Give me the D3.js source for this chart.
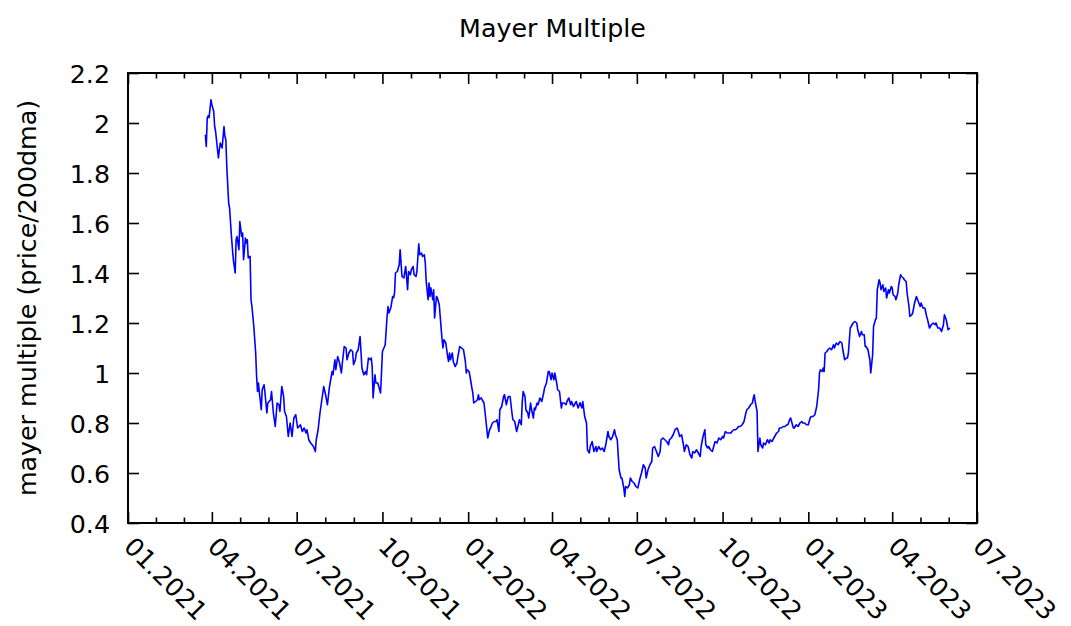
<!DOCTYPE html>
<html>
<head>
<meta charset="utf-8">
<script src="https://cdn.jsdelivr.net/npm/d3@7"></script>
<style>
  html, body { margin: 0; padding: 0; background: #fff; }
  svg { display: block; }
  text { font-family: "DejaVu Sans", sans-serif; fill: #000; }
</style>
</head>
<body>
<svg id="chart" width="1071" height="626"></svg>
<script>
const title = "Mayer Multiple";
const yLabel = "mayer multiple (price/200dma)";
const xDomain = ["2021-01-01", "2023-07-01"];
const yDomain = [0.4, 2.2];
const yTicks = [0.4, 0.6, 0.8, 1.0, 1.2, 1.4, 1.6, 1.8, 2.0, 2.2];
const xTickDates = ["2021-01-01","2021-04-01","2021-07-01","2021-10-01","2022-01-01","2022-04-01","2022-07-01","2022-10-01","2023-01-01","2023-04-01","2023-07-01"];

const dates = [
"2021-03-25","2021-03-26","2021-03-27","2021-03-28","2021-03-29","2021-03-31","2021-04-01","2021-04-03","2021-04-04","2021-04-05",
"2021-04-08","2021-04-09","2021-04-10","2021-04-12","2021-04-14","2021-04-15","2021-04-16","2021-04-17","2021-04-19","2021-04-20",
"2021-04-22","2021-04-24","2021-04-26","2021-04-27","2021-04-28","2021-04-30","2021-05-01","2021-05-03","2021-05-04","2021-05-05",
"2021-05-07","2021-05-08","2021-05-09","2021-05-10","2021-05-12","2021-05-13","2021-05-14","2021-05-16","2021-05-18","2021-05-19",
"2021-05-20","2021-05-21","2021-05-22","2021-05-24","2021-05-25","2021-05-27","2021-05-28","2021-05-30","2021-05-31","2021-06-03",
"2021-06-04","2021-06-06","2021-06-08","2021-06-10","2021-06-12","2021-06-13","2021-06-15","2021-06-17","2021-06-18","2021-06-20",
"2021-06-22","2021-06-24","2021-06-26","2021-06-28","2021-06-30","2021-07-02","2021-07-05","2021-07-07","2021-07-09","2021-07-11",
"2021-07-12","2021-07-14","2021-07-16","2021-07-19","2021-07-21","2021-07-22","2021-07-24","2021-07-26","2021-07-28","2021-07-30",
"2021-08-01","2021-08-03","2021-08-05","2021-08-08","2021-08-09","2021-08-11","2021-08-12","2021-08-14","2021-08-16","2021-08-18",
"2021-08-19","2021-08-21","2021-08-23","2021-08-24","2021-08-26","2021-08-28","2021-08-30","2021-08-31","2021-09-02","2021-09-03",
"2021-09-05","2021-09-07","2021-09-08","2021-09-09","2021-09-11","2021-09-13","2021-09-14","2021-09-16","2021-09-18","2021-09-19",
"2021-09-20","2021-09-21","2021-09-23","2021-09-24","2021-09-26","2021-09-29","2021-09-30","2021-10-01","2021-10-04","2021-10-06",
"2021-10-07","2021-10-08","2021-10-10","2021-10-12","2021-10-13","2021-10-14","2021-10-15","2021-10-17","2021-10-19","2021-10-20",
"2021-10-21","2021-10-22","2021-10-24","2021-10-26","2021-10-28","2021-10-29","2021-10-31","2021-11-01","2021-11-03","2021-11-04",
"2021-11-06","2021-11-07","2021-11-09","2021-11-10","2021-11-12","2021-11-13","2021-11-15","2021-11-16","2021-11-17","2021-11-19",
"2021-11-20","2021-11-21","2021-11-22","2021-11-24","2021-11-25","2021-11-26","2021-11-28","2021-11-29","2021-12-01","2021-12-02",
"2021-12-04","2021-12-05","2021-12-06","2021-12-08","2021-12-10","2021-12-11","2021-12-12","2021-12-13","2021-12-15","2021-12-16",
"2021-12-18","2021-12-20","2021-12-21","2021-12-23","2021-12-25","2021-12-27","2021-12-29","2021-12-30","2021-12-31","2022-01-02",
"2022-01-03","2022-01-05","2022-01-06","2022-01-07","2022-01-09","2022-01-11","2022-01-12","2022-01-13","2022-01-15","2022-01-16",
"2022-01-18","2022-01-20","2022-01-22","2022-01-24","2022-01-25","2022-01-27","2022-01-29","2022-01-31","2022-02-01","2022-02-03",
"2022-02-04","2022-02-06","2022-02-08","2022-02-09","2022-02-11","2022-02-13","2022-02-15","2022-02-17","2022-02-18","2022-02-20",
"2022-02-22","2022-02-23","2022-02-25","2022-02-27","2022-02-28","2022-03-01","2022-03-03","2022-03-04","2022-03-06","2022-03-07",
"2022-03-09","2022-03-10","2022-03-12","2022-03-13","2022-03-14","2022-03-16","2022-03-17","2022-03-19","2022-03-21","2022-03-23",
"2022-03-24","2022-03-26","2022-03-28","2022-03-29","2022-03-31","2022-04-01","2022-04-03","2022-04-04","2022-04-06","2022-04-07",
"2022-04-09","2022-04-11","2022-04-12","2022-04-14","2022-04-16","2022-04-17","2022-04-19","2022-04-21","2022-04-22","2022-04-24",
"2022-04-26","2022-04-27","2022-04-29","2022-05-01","2022-05-03","2022-05-04","2022-05-06","2022-05-08","2022-05-09","2022-05-11",
"2022-05-12","2022-05-14","2022-05-16","2022-05-18","2022-05-19","2022-05-21","2022-05-23","2022-05-25","2022-05-27","2022-05-29",
"2022-05-31","2022-06-01","2022-06-03","2022-06-05","2022-06-07","2022-06-08","2022-06-10","2022-06-12","2022-06-14","2022-06-15",
"2022-06-17","2022-06-18","2022-06-19","2022-06-21","2022-06-23","2022-06-24","2022-06-26","2022-06-28","2022-06-30","2022-07-02",
"2022-07-04","2022-07-06","2022-07-08","2022-07-10","2022-07-11","2022-07-13","2022-07-15","2022-07-17","2022-07-18","2022-07-20",
"2022-07-22","2022-07-24","2022-07-26","2022-07-27","2022-07-29","2022-07-31","2022-08-02","2022-08-04","2022-08-05","2022-08-07",
"2022-08-09","2022-08-11","2022-08-13","2022-08-14","2022-08-16","2022-08-18","2022-08-20","2022-08-21","2022-08-23","2022-08-25",
"2022-08-27","2022-08-29","2022-08-30","2022-09-01","2022-09-03","2022-09-05","2022-09-07","2022-09-08","2022-09-10","2022-09-12",
"2022-09-13","2022-09-15","2022-09-16","2022-09-18","2022-09-20","2022-09-22","2022-09-23","2022-09-25","2022-09-27","2022-09-29",
"2022-10-01","2022-10-02","2022-10-04","2022-10-06","2022-10-08","2022-10-10","2022-10-11","2022-10-13","2022-10-15","2022-10-17",
"2022-10-18","2022-10-20","2022-10-22","2022-10-24","2022-10-26","2022-10-27","2022-10-29","2022-10-31","2022-11-02","2022-11-03",
"2022-11-04","2022-11-05","2022-11-07","2022-11-08","2022-11-10","2022-11-11","2022-11-13","2022-11-14","2022-11-16","2022-11-18",
"2022-11-20","2022-11-21","2022-11-23","2022-11-25","2022-11-28","2022-11-30","2022-12-01","2022-12-03","2022-12-05","2022-12-07",
"2022-12-09","2022-12-10","2022-12-12","2022-12-13","2022-12-15","2022-12-16","2022-12-17","2022-12-19","2022-12-21","2022-12-23",
"2022-12-25","2022-12-26","2022-12-28","2022-12-30","2023-01-01","2023-01-03","2023-01-04","2023-01-06","2023-01-08","2023-01-10",
"2023-01-12","2023-01-13","2023-01-14","2023-01-16","2023-01-17","2023-01-18","2023-01-19","2023-01-21","2023-01-22","2023-01-24",
"2023-01-26","2023-01-28","2023-01-29","2023-01-31","2023-02-02","2023-02-04","2023-02-06","2023-02-07","2023-02-09","2023-02-11",
"2023-02-12","2023-02-13","2023-02-15","2023-02-16","2023-02-18","2023-02-20","2023-02-22","2023-02-23","2023-02-25","2023-02-27",
"2023-02-28","2023-03-02","2023-03-03","2023-03-04","2023-03-06","2023-03-08","2023-03-09","2023-03-11","2023-03-12","2023-03-14",
"2023-03-15","2023-03-16","2023-03-18","2023-03-19","2023-03-20","2023-03-22","2023-03-23","2023-03-25","2023-03-26","2023-03-28",
"2023-03-29","2023-03-31","2023-04-01","2023-04-02","2023-04-04","2023-04-05","2023-04-07","2023-04-08","2023-04-10","2023-04-11",
"2023-04-13","2023-04-14","2023-04-16","2023-04-17","2023-04-19","2023-04-20","2023-04-22","2023-04-23","2023-04-25","2023-04-27",
"2023-04-29","2023-05-01","2023-05-02","2023-05-04","2023-05-06","2023-05-08","2023-05-09","2023-05-11","2023-05-13","2023-05-15",
"2023-05-17","2023-05-18","2023-05-20","2023-05-22","2023-05-24","2023-05-26","2023-05-27","2023-05-29","2023-05-31","2023-06-02"
];

const mayer = [
1.953,1.906,2.020,2.029,2.021,2.093,2.073,2.046,1.986,1.966,
1.860,1.893,1.920,1.900,1.986,1.946,1.933,1.826,1.680,1.660,
1.546,1.453,1.400,1.533,1.546,1.493,1.606,1.546,1.560,1.453,
1.540,1.520,1.533,1.460,1.467,1.293,1.266,1.186,1.080,0.986,
0.926,0.960,0.920,0.853,0.933,0.953,0.920,0.840,0.880,0.893,
0.926,0.840,0.786,0.880,0.873,0.846,0.946,0.906,0.846,0.826,
0.746,0.800,0.746,0.820,0.833,0.780,0.793,0.766,0.780,0.760,
0.773,0.733,0.720,0.706,0.686,0.733,0.773,0.840,0.893,0.946,
0.913,0.873,0.940,1.006,0.993,1.053,1.013,1.066,1.040,1.000,
1.040,1.106,1.100,1.053,1.080,1.093,1.086,1.033,1.053,1.080,
1.093,1.146,1.086,1.020,0.993,1.006,0.993,1.060,1.053,1.060,
1.026,0.900,0.993,0.960,0.960,0.920,1.000,1.086,1.113,1.226,
1.266,1.240,1.261,1.306,1.301,1.320,1.400,1.406,1.433,1.493,
1.440,1.386,1.380,1.426,1.333,1.406,1.393,1.413,1.426,1.393,
1.386,1.406,1.517,1.473,1.480,1.466,1.473,1.440,1.366,1.293,
1.360,1.306,1.341,1.293,1.333,1.220,1.306,1.300,1.273,1.226,
1.133,1.100,1.133,1.120,1.066,1.046,1.080,1.053,1.080,1.046,
1.026,1.040,1.066,1.106,1.100,1.093,1.046,1.000,1.013,1.006,
0.986,0.940,0.920,0.880,0.886,0.893,0.913,0.893,0.901,0.893,
0.880,0.813,0.740,0.773,0.780,0.800,0.806,0.806,0.813,0.766,
0.853,0.866,0.906,0.913,0.873,0.906,0.906,0.840,0.813,0.806,
0.766,0.780,0.813,0.793,0.880,0.926,0.906,0.853,0.840,0.820,
0.880,0.853,0.820,0.860,0.853,0.880,0.873,0.900,0.886,0.920,
0.940,0.960,1.006,1.006,0.973,1.000,0.973,1.000,0.960,0.933,
0.926,0.860,0.880,0.880,0.873,0.886,0.900,0.873,0.886,0.866,
0.880,0.886,0.860,0.881,0.860,0.886,0.826,0.800,0.693,0.680,
0.706,0.726,0.686,0.706,0.686,0.706,0.693,0.700,0.686,0.720,
0.766,0.746,0.733,0.746,0.773,0.753,0.733,0.613,0.580,0.580,
0.540,0.506,0.546,0.540,0.553,0.580,0.566,0.560,0.546,0.540,
0.573,0.600,0.633,0.620,0.580,0.613,0.633,0.646,0.700,0.706,
0.686,0.666,0.686,0.733,0.740,0.733,0.726,0.713,0.733,0.740,
0.753,0.773,0.780,0.773,0.746,0.753,0.713,0.686,0.713,0.706,
0.673,0.660,0.686,0.680,0.693,0.680,0.666,0.706,0.746,0.773,
0.713,0.700,0.706,0.693,0.686,0.713,0.726,0.720,0.740,0.733,
0.746,0.740,0.766,0.760,0.760,0.760,0.766,0.773,0.773,0.780,
0.786,0.786,0.793,0.806,0.840,0.853,0.860,0.873,0.880,0.900,
0.913,0.886,0.846,0.686,0.740,0.713,0.700,0.720,0.713,0.733,
0.720,0.733,0.726,0.740,0.760,0.766,0.780,0.780,0.786,0.786,
0.793,0.793,0.813,0.820,0.793,0.780,0.780,0.793,0.786,0.800,
0.806,0.800,0.800,0.793,0.793,0.820,0.826,0.826,0.833,0.866,
0.933,1.000,1.013,1.006,1.020,1.006,1.080,1.086,1.093,1.100,
1.093,1.113,1.100,1.120,1.113,1.126,1.120,1.093,1.053,1.060,
1.060,1.080,1.180,1.186,1.200,1.206,1.200,1.173,1.146,1.166,
1.153,1.153,1.106,1.106,1.093,1.053,1.000,1.073,1.186,1.213,
1.220,1.333,1.373,1.360,1.333,1.353,1.326,1.340,1.300,1.333,
1.320,1.346,1.340,1.313,1.306,1.293,1.320,1.353,1.393,1.386,
1.380,1.373,1.366,1.320,1.266,1.226,1.233,1.240,1.280,1.306,
1.286,1.266,1.280,1.260,1.260,1.226,1.213,1.180,1.193,1.200,
1.193,1.200,1.180,1.180,1.166,1.193,1.233,1.213,1.173,1.180
];

const W = 1071, H = 626;
const margin = { left: 128, right: 94, top: 73, bottom: 103 };
const FONT = 25.3;

const parse = d3.utcParse("%Y-%m-%d");
const svg = d3.select("#chart");

const x = d3.scaleUtc().domain(xDomain.map(parse)).range([margin.left, W - margin.right]);
const y = d3.scaleLinear().domain(yDomain).range([H - margin.bottom, margin.top]);

const majors = xTickDates.map(parse);
const minors = [];
for (let i = 0; i < majors.length - 1; i++) {
  const a = +majors[i], b = +majors[i + 1];
  minors.push(new Date(a + (b - a) / 3), new Date(a + 2 * (b - a) / 3));
}

const data = dates.map((d, i) => ({ date: parse(d), v: mayer[i] }));

// line
svg.append("path")
  .datum(data)
  .attr("fill", "none")
  .attr("stroke", "#0000ff")
  .attr("stroke-width", 1.6)
  .attr("stroke-linejoin", "round")
  .attr("d", d3.line().x(d => x(d.date)).y(d => y(d.v)));

const fmtY = d => String(+d.toFixed(1));
const fmtX = d3.utcFormat("%m.%Y");

function styleAxis(g) {
  g.select(".domain").remove();
  g.selectAll(".tick line").attr("stroke", "#000").attr("stroke-width", 1.6);
  g.selectAll("text").style("font-family", "DejaVu Sans").style("font-size", FONT + "px").attr("fill", "#000");
}

// bottom axis (major with labels)
const gb = svg.append("g").attr("transform", `translate(0,${H - margin.bottom})`)
  .call(d3.axisBottom(x).tickValues(majors).tickSize(-11).tickSizeOuter(0).tickFormat(fmtX))
  .call(styleAxis);
gb.selectAll(".tick text")
  .attr("x", 0).attr("y", 0).attr("dy", 0)
  .attr("transform", "translate(-6,25) rotate(45)")
  .style("text-anchor", "start");
svg.append("g").attr("transform", `translate(0,${H - margin.bottom})`)
  .call(d3.axisBottom(x).tickValues(minors).tickSize(-5.5).tickSizeOuter(0).tickFormat(""))
  .call(styleAxis);

// top axis (mirror)
svg.append("g").attr("transform", `translate(0,${margin.top})`)
  .call(d3.axisTop(x).tickValues(majors).tickSize(-11).tickSizeOuter(0).tickFormat(""))
  .call(styleAxis);
svg.append("g").attr("transform", `translate(0,${margin.top})`)
  .call(d3.axisTop(x).tickValues(minors).tickSize(-5.5).tickSizeOuter(0).tickFormat(""))
  .call(styleAxis);

// left axis
svg.append("g").attr("transform", `translate(${margin.left},0)`)
  .call(d3.axisLeft(y).tickValues(yTicks).tickSize(-11).tickSizeOuter(0).tickPadding(18).tickFormat(fmtY))
  .call(styleAxis)
  .selectAll(".tick text").attr("dy", "0.36em");

// right axis (mirror)
svg.append("g").attr("transform", `translate(${W - margin.right},0)`)
  .call(d3.axisRight(y).tickValues(yTicks).tickSize(-11).tickSizeOuter(0).tickFormat(""))
  .call(styleAxis);

// frame
svg.append("rect")
  .attr("x", margin.left).attr("y", margin.top)
  .attr("width", W - margin.left - margin.right)
  .attr("height", H - margin.top - margin.bottom)
  .attr("fill", "none").attr("stroke", "#000").attr("stroke-width", 2);

// title
svg.append("text")
  .attr("x", (margin.left + W - margin.right) / 2).attr("y", 37)
  .attr("text-anchor", "middle")
  .style("font-size", FONT + "px")
  .text(title);

// y label
svg.append("text")
  .attr("transform", `translate(36,${(margin.top + H - margin.bottom) / 2}) rotate(-90)`)
  .attr("text-anchor", "middle")
  .style("font-size", FONT + "px")
  .text(yLabel);
</script>
</body>
</html>
